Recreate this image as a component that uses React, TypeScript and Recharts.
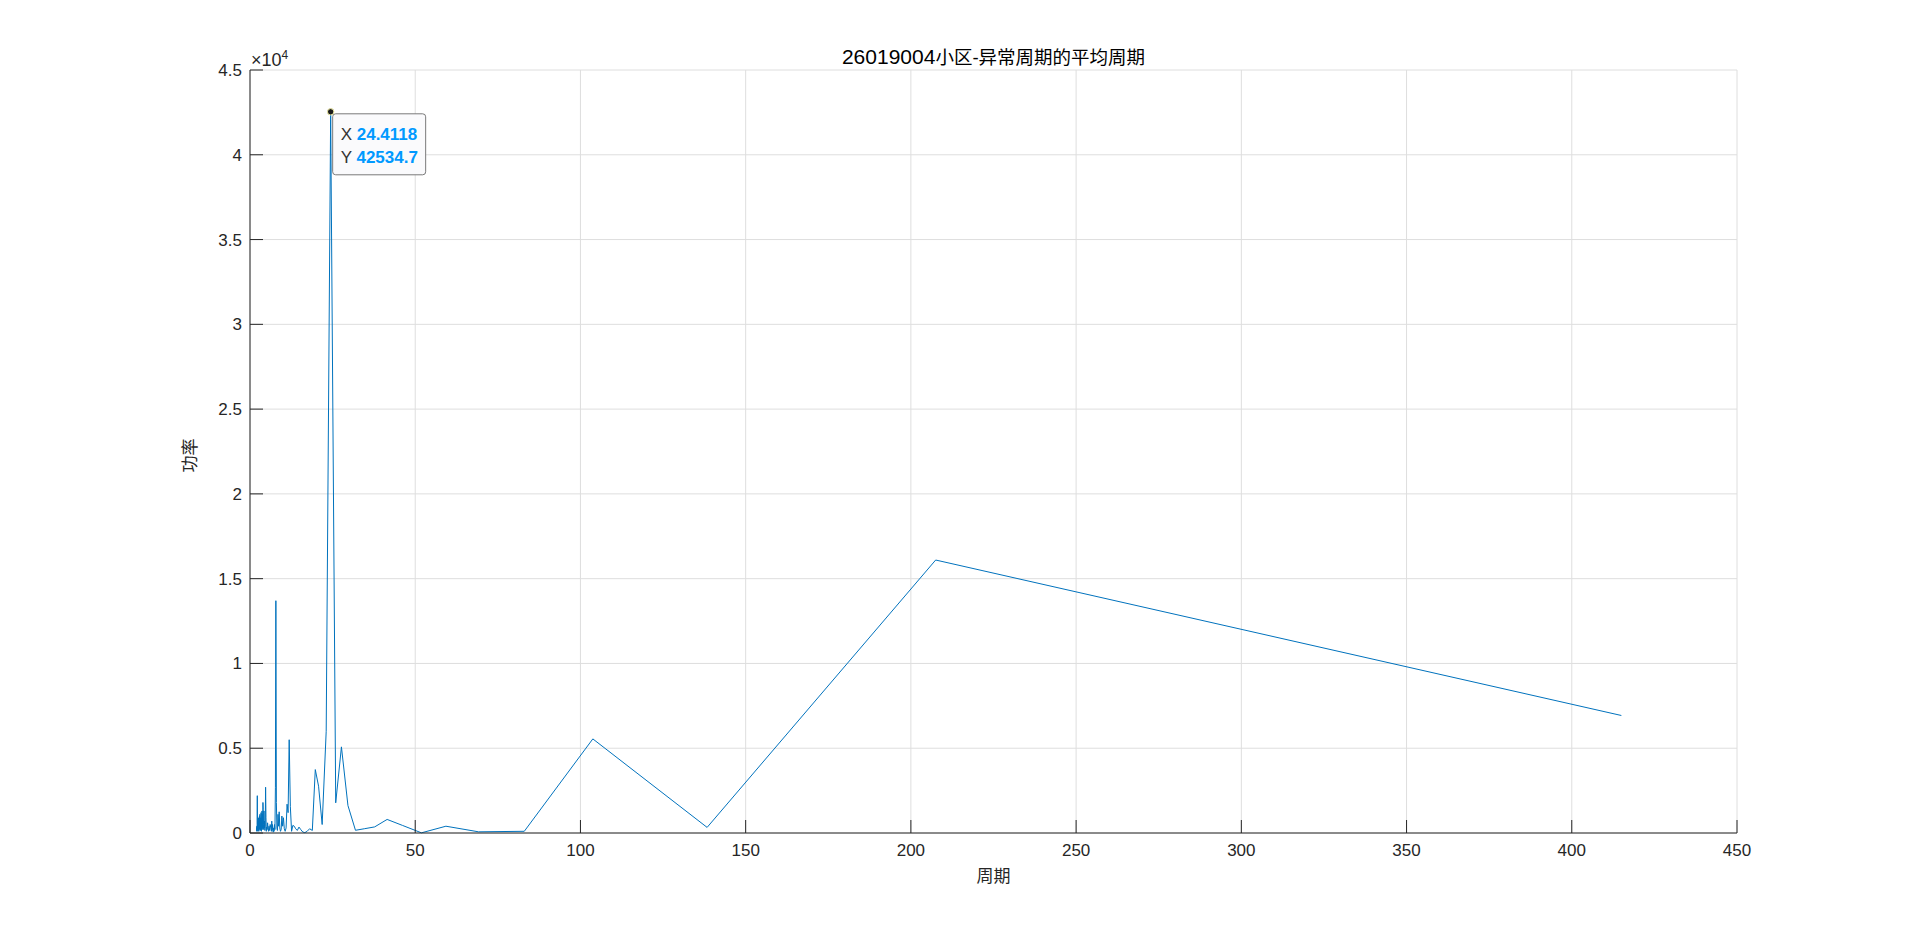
import { CartesianGrid, Line, LineChart, ReferenceDot, XAxis, YAxis } from "recharts";

// 周期 (x) and 功率 (y), ascending period
const periods = [
  2.0, 2.03, 2.08, 2.12, 2.16, 2.21, 2.26, 2.31, 2.36, 2.41, 2.47, 2.53, 2.59, 2.64, 2.69, 2.75, 2.8, 2.86, 2.92, 2.99,
  3.05, 3.12, 3.19, 3.24, 3.29, 3.35, 3.4, 3.46, 3.52, 3.58, 3.64, 3.71, 3.77, 3.84, 3.92, 3.99,
  4.07, 4.15, 4.23, 4.32, 4.41, 4.51, 4.61, 4.72, 4.83, 4.94,
  5.06, 5.19, 5.32, 5.46, 5.61, 5.76, 5.93, 6.1, 6.29, 6.48, 6.59, 6.69, 6.8, 6.92,
  7.03, 7.16, 7.28, 7.41, 7.55, 7.69, 7.83, 7.98, 8.14, 8.3, 8.47, 8.65, 8.83, 9.02, 9.22, 9.43, 9.65, 9.88,
  10.12, 10.38, 10.64, 10.92, 11.22, 11.53, 11.86, 12.21, 12.58, 12.97, 13.39, 13.83, 14.31, 14.82, 15.37, 15.96, 16.6, 17.29, 18.04, 18.86,
  19.76, 20.75, 21.84, 23.06, 24.4118, 25.94, 27.67, 29.64, 31.92, 34.58, 37.73, 41.5, 46.11, 51.88, 59.29, 69.17, 83.0, 103.75, 138.33, 207.5, 415.0,
];

const power = [
  400, 100, 300, 150, 500, 2200, 300, 600, 100, 400, 150, 900, 250, 500, 100, 700, 300, 1000, 200, 1100,
  400, 900, 150, 800, 300, 1200, 600, 100, 900, 400, 1300, 200, 1100, 300, 1800, 1400,
  500, 200, 1300, 300, 700, 150, 400, 2700, 900, 100,
  350, 200, 600, 300, 100, 400, 150, 500, 300, 100, 700, 150, 500, 200,
  50, 300, 100, 500, 200, 2700, 13700, 1800, 300, 150, 1100, 400, 1250, 300, 100, 200, 1000, 400,
  900, 250, 100, 300, 1700, 1200, 5500, 1550, 100, 450, 400, 250, 150, 350, 200, 60, 20, 100, 250, 150,
  3740, 2760, 500, 6000, 42534.7, 1780, 5080, 1620, 160, 250, 360, 800, 450, 10, 400, 70, 100, 5550, 330, 16100, 6930,
];

const xTicks = [0, 50, 100, 150, 200, 250, 300, 350, 400, 450];
const yTicks = [0, 5000, 10000, 15000, 20000, 25000, 30000, 35000, 40000, 45000];

const chartCode = "26019004";
const chartTitle = "小区-异常周期的平均周期";
const xLabel = "周期";
const yLabel = "功率";

const rows = periods.map((period, i) => ({ period, power: power[i] }));
const peak = rows.reduce((best, row) => (row.power > best.power ? row : best), rows[0]);

const chartWidth = 1920;
const chartHeight = 937;
const margin = { top: 70, right: 183, bottom: 64, left: 200 };
const yAxisWidth = 50;

const axisColor = "#262626";
const lineColor = "#0072BD";
const fontFamily = "'Liberation Sans', Arial, 'Noto Sans CJK SC', sans-serif";
const tickLen = 13;
const tickFont = 17;

function BottomTick({ x, y, payload }: any) {
  return (
    <g>
      <line x1={x} y1={y} x2={x} y2={y - tickLen} stroke={axisColor} />
      <text x={x} y={y + 23} textAnchor="middle" fontSize={tickFont} fill={axisColor} fontFamily={fontFamily}>
        {payload.value}
      </text>
    </g>
  );
}

function TopTick({ x, y }: any) {
  return <line x1={x} y1={y} x2={x} y2={y + tickLen} stroke={axisColor} />;
}

function LeftTick({ x, y, payload }: any) {
  return (
    <g>
      <line x1={x} y1={y} x2={x + tickLen} y2={y} stroke={axisColor} />
      <text x={x - 8} y={y + 6} textAnchor="end" fontSize={tickFont} fill={axisColor} fontFamily={fontFamily}>
        {String(payload.value / 10000)}
      </text>
    </g>
  );
}

function RightTick({ x, y }: any) {
  return <line x1={x} y1={y} x2={x - tickLen} y2={y} stroke={axisColor} />;
}

function XLabel({ viewBox }: any) {
  const cx = viewBox.x + viewBox.width / 2;
  return (
    <text x={cx} y={viewBox.y + 49} textAnchor="middle" fontSize={17} fill={axisColor} fontFamily={fontFamily}>
      {xLabel}
    </text>
  );
}

// y label, the ×10^4 exponent and the chart title, all placed from the y axis box
function YLabel({ viewBox }: any) {
  const lx = viewBox.x - 10;
  const ly = viewBox.y + viewBox.height / 2 + 4;
  const left = viewBox.x + viewBox.width;
  const plotWidth = chartWidth - margin.left - yAxisWidth - margin.right;
  const titleX = left + plotWidth / 2;
  return (
    <g>
      <text
        x={lx}
        y={ly}
        dy="0.35em"
        textAnchor="middle"
        fontSize={17}
        fill={axisColor}
        fontFamily={fontFamily}
        transform={`rotate(-90, ${lx}, ${ly})`}
      >
        {yLabel}
      </text>
      <text x={left + 1} y={viewBox.y - 4} fontSize={18} fill={axisColor} fontFamily={fontFamily}>
        ×10
        <tspan fontSize={12} dy={-7}>
          4
        </tspan>
      </text>
      <text x={titleX} y={viewBox.y - 6} textAnchor="middle" fill="#000" fontFamily={fontFamily}>
        <tspan fontSize={21}>{chartCode}</tspan>
        <tspan fontSize={18.5}>{chartTitle}</tspan>
      </text>
    </g>
  );
}

function DataTip({ cx, cy }: any) {
  return (
    <g fontFamily={fontFamily} fontSize={17}>
      <rect x={cx + 2} y={cy + 2} width={93} height={61} rx={3} fill="#fafafc" stroke="#7a7a7a" />
      <circle cx={cx} cy={cy} r={3.2} fill="#1a1a1a" stroke="#f3efa6" strokeWidth={1} />
      <text x={cx + 10} y={cy + 28} fill="#333">
        X <tspan fill="#0099FF" fontWeight="bold">{String(peak.period)}</tspan>
      </text>
      <text x={cx + 10} y={cy + 51} fill="#333">
        Y <tspan fill="#0099FF" fontWeight="bold">{String(peak.power)}</tspan>
      </text>
    </g>
  );
}

export default function App() {
  return (
    <div style={{ position: "absolute", left: 0, top: 0, width: chartWidth, height: chartHeight, background: "#fff" }}>
      <LineChart width={chartWidth} height={chartHeight} data={rows} margin={margin}>
        <CartesianGrid stroke="#dedede" strokeWidth={1} />
        <XAxis
          dataKey="period"
          type="number"
          domain={[0, 450]}
          ticks={xTicks}
          interval={0}
          height={40}
          tickSize={0}
          tickMargin={0}
          tickLine={false}
          tick={<BottomTick />}
          axisLine={{ stroke: axisColor }}
          label={XLabel}
        />
        <XAxis
          xAxisId="top"
          orientation="top"
          dataKey="period"
          type="number"
          domain={[0, 450]}
          ticks={xTicks}
          interval={0}
          height={0}
          tickSize={0}
          tickMargin={0}
          tickLine={false}
          tick={<TopTick />}
          axisLine={{ stroke: axisColor }}
        />
        <YAxis
          type="number"
          domain={[0, 45000]}
          ticks={yTicks}
          interval={0}
          width={yAxisWidth}
          tickSize={0}
          tickMargin={0}
          tickLine={false}
          tick={<LeftTick />}
          axisLine={{ stroke: axisColor }}
          label={YLabel}
        />
        <YAxis
          yAxisId="right"
          orientation="right"
          type="number"
          domain={[0, 45000]}
          ticks={yTicks}
          interval={0}
          width={0}
          tickSize={0}
          tickMargin={0}
          tickLine={false}
          tick={<RightTick />}
          axisLine={{ stroke: axisColor }}
        />
        <Line
          dataKey="power"
          type="linear"
          stroke={lineColor}
          strokeWidth={1}
          dot={false}
          activeDot={false}
          isAnimationActive={false}
        />
        <ReferenceDot x={peak.period} y={peak.power} r={3} shape={<DataTip />} />
      </LineChart>
    </div>
  );
}
